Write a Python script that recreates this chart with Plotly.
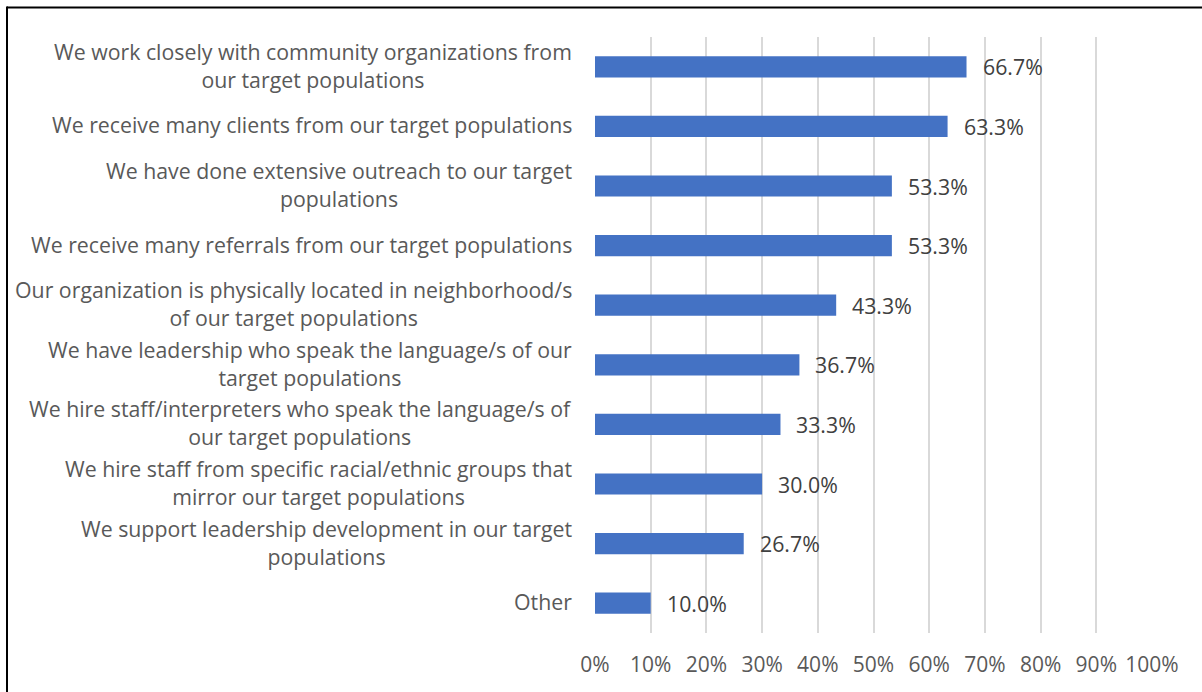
import plotly.graph_objects as go

# Survey responses, listed top to bottom
categories = [
    "We work closely with community organizations from<br>our target populations",
    "We receive many clients from our target populations",
    "We have done extensive outreach to our target<br>populations",
    "We receive many referrals from our target populations",
    "Our organization is physically located in neighborhood/s<br>of our target populations",
    "We have leadership who speak the language/s of our<br>target populations",
    "We hire staff/interpreters who speak the language/s of<br>our target populations",
    "We hire staff from specific racial/ethnic groups that<br>mirror our target populations",
    "We support leadership development in our target<br>populations",
    "Other",
]
shares = [66.7, 63.3, 53.3, 53.3, 43.3, 36.7, 33.3, 30.0, 26.7, 10.0]
tick_values = [0, 10, 20, 30, 40, 50, 60, 70, 80, 90, 100]
tick_labels = [f"{v}%" for v in tick_values]

W, H = 1202, 692
ML, MR, MT, MB = 595, 50, 37, 59
FONT = "'Open Sans', sans-serif"
BLUE = "#4472C4"

fig = go.Figure(
    go.Bar(
        x=shares,
        y=categories,
        orientation="h",
        marker=dict(color=BLUE, line=dict(width=0)),
        hoverinfo="skip",
    )
)

annotations = []
# Centered multi-line category labels, right-aligned against the plot
for cat in categories:
    annotations.append(dict(
        x=0, y=cat, xref="paper", yref="y",
        text=cat, showarrow=False, xanchor="right", yanchor="middle",
        align="center", xshift=-21, yshift=1.5,
        font=dict(family=FONT, size=21.3, color="#595959"),
    ))
# Value labels just beyond each bar
for cat, v in zip(categories, shares):
    annotations.append(dict(
        x=v, y=cat, xref="x", yref="y",
        text=f"{v:.1f}%", showarrow=False, xanchor="left", yanchor="middle",
        xshift=14,
        font=dict(family=FONT, size=21.3, color="#404040"),
    ))

pw = W - ML - MR
ph = H - MT - MB
# Frame lines along the top and left edges of the figure
shapes = [
    dict(type="line", xref="paper", yref="paper",
         x0=(7 - ML) / pw, x1=(W + 5 - ML) / pw,
         y0=1 + (MT - 7.5) / ph, y1=1 + (MT - 7.5) / ph,
         line=dict(color="#000000", width=2)),
    dict(type="line", xref="paper", yref="paper",
         x0=(7 - ML) / pw, x1=(7 - ML) / pw,
         y0=1 + (MT - 6.5) / ph, y1=-(MB + 5) / ph,
         line=dict(color="#000000", width=2)),
]

fig.update_layout(
    width=W, height=H,
    margin=dict(l=ML, r=MR, t=MT, b=MB, pad=0),
    paper_bgcolor="white", plot_bgcolor="white",
    showlegend=False,
    bargap=0.645,
    annotations=annotations,
    shapes=shapes,
    font=dict(family=FONT, size=21, color="#595959"),
    xaxis=dict(
        range=[0, 100], tickvals=tick_values, ticktext=tick_labels,
        showgrid=True, gridcolor="#D9D9D9", gridwidth=2,
        zeroline=False, showline=False, ticks="",
        ticklabelstandoff=17,
        tickfont=dict(family=FONT, size=21, color="#595959"),
        fixedrange=True,
    ),
    yaxis=dict(
        autorange="reversed", showticklabels=False, showgrid=False,
        zeroline=False, showline=False, ticks="", fixedrange=True,
    ),
)

fig.write_html("out.html", config={"displayModeBar": False})
